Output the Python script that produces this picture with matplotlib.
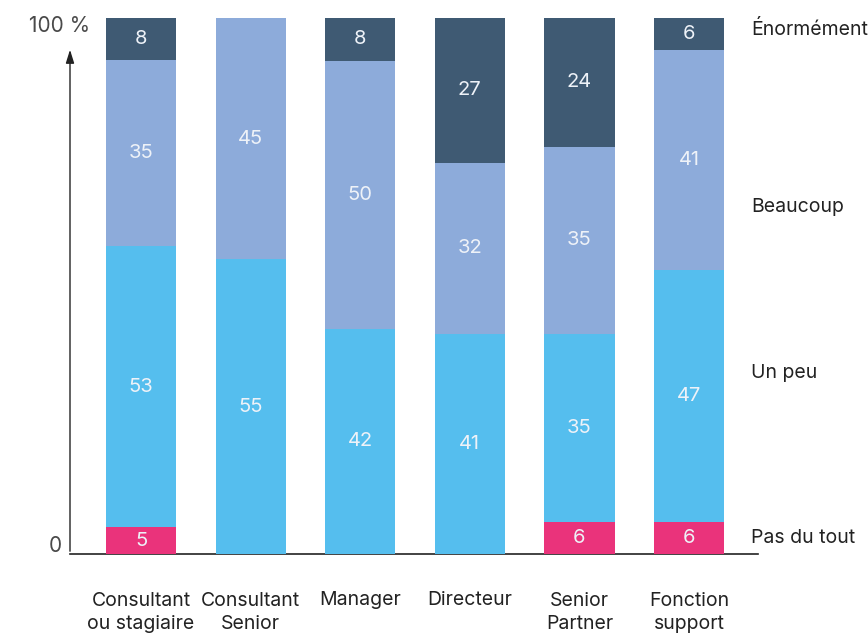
import numpy as np
import matplotlib
matplotlib.use('Agg')
import matplotlib.pyplot as plt

plt.rcParams['font.family'] = ['Inter', 'DejaVu Sans']

# données
categories = ['Consultant\nou stagiaire', 'Consultant\nSenior', 'Manager',
              'Directeur', 'Senior\nPartner', 'Fonction\nsupport']
niveaux = ['Pas du tout', 'Un peu', 'Beaucoup', 'Énormément']
pas_du_tout = [5, 0, 0, 0, 6, 6]
un_peu = [53, 55, 42, 41, 35, 47]
beaucoup = [35, 45, 50, 32, 35, 41]
enormement = [8, 0, 8, 27, 24, 6]

couleurs = ['#EA337B', '#55BEEE', '#8DABDA', '#3F5A73']
series = np.array([pas_du_tout, un_peu, beaucoup, enormement], dtype=float)
totaux = series.sum(axis=0)
parts = series / totaux * 100  # ramené à 100 %

fig = plt.figure(figsize=(8.68, 6.36), dpi=100)
ax = fig.add_axes([70/868, 82/636, 670/868, 536/636])

x = np.arange(len(categories))
bas = np.zeros(len(categories))
for i in range(len(niveaux)):
    ax.bar(x, parts[i], bottom=bas, width=0.64, color=couleurs[i], linewidth=0, zorder=2)
    for j in range(len(categories)):
        if series[i, j] > 0:
            ax.text(x[j], bas[j] + parts[i, j] / 2, '%d' % series[i, j],
                    ha='center', va='center', fontsize=14.5, color='#EEF2F8',
                    zorder=3)
    bas += parts[i]

ax.set_xlim(-0.648, 5.465)
ax.set_ylim(0, 100)
for s in ax.spines.values():
    s.set_visible(False)
ax.set_xticks([])
ax.set_yticks([])

# axe vertical avec flèche
ax.annotate('', xy=(-0.648, 94.6), xytext=(-0.648, 0), xycoords='data',
            arrowprops=dict(arrowstyle='-|>,head_width=0.25,head_length=0.8',
                            color='#222222', lw=1), annotation_clip=False)
ax.plot([-0.648, 5.627], [0, 0], color='#222222', lw=1.2, clip_on=False, zorder=1)

ax.text(-0.465, 98.5, '100 %', ha='right', va='center', fontsize=15,
        color='#4a4a4a')
ax.text(-0.785, 1.5, '0', ha='center', va='center', fontsize=15,
        color='#4a4a4a')

# libellés à droite
pos_niveaux = [3, 33.8, 64.7, 97.8]
for nom, yy in zip(niveaux, pos_niveaux):
    ax.text(5.566, yy, nom, ha='left', va='center', fontsize=14,
            color='#222222', clip_on=False)

# catégories
for j, c in enumerate(categories):
    ax.text(x[j], -10.9 if '\n' in c else -8.6, c, ha='center', va='center',
            fontsize=14, color='#222222', linespacing=1.3, clip_on=False)

fig.savefig('out.png', dpi=100)
